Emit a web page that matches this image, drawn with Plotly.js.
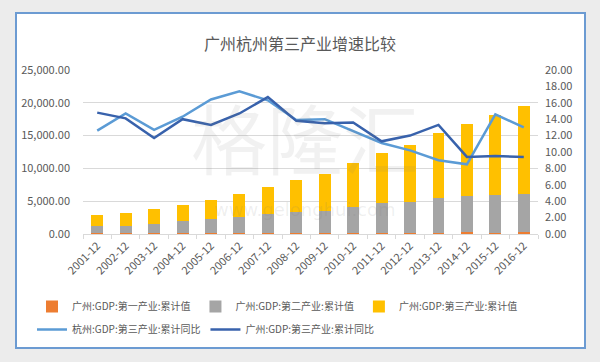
<!DOCTYPE html>
<html><head><meta charset="utf-8">
<script src="https://cdn.plot.ly/plotly-3.0.1.min.js"></script>
<style>html,body{margin:0;padding:0;background:#ececec;}#chart{width:600px;height:362px;}</style>
</head><body><div id="chart"></div>
<script>
const categories = ["2001-12","2002-12","2003-12","2004-12","2005-12","2006-12","2007-12","2008-12","2009-12","2010-12","2011-12","2012-12","2013-12","2014-12","2015-12","2016-12"];
const gzPrimary = [103.6,107.1,112.6,118.9,129.4,137.7,155.0,168.4,172.7,189.0,204.5,213.8,228.9,237.9,228.1,240.0];
const gzSecondary = [1102.5,1166.3,1480.4,1794.3,2095.8,2444.6,2827.5,3204.9,3405.1,3984.4,4576.9,4720.7,5227.4,5606.4,5726.1,5925.9];
const gzTertiary = [1635.6,1930.6,2165.6,2537.4,2929.0,3499.6,4157.8,4914.1,5560.4,6574.9,7642.0,8616.7,9963.8,10862.6,12146.2,13381.5];
const hzTertiaryYoY = [12.6,14.7,12.7,14.3,16.4,17.4,16.3,13.9,14.0,12.5,11.1,10.2,9.0,8.5,14.6,13.0];
const gzTertiaryYoY = [14.8,14.1,11.7,14.0,13.3,14.7,16.7,13.8,13.5,13.6,11.3,12.0,13.3,9.4,9.5,9.4];
const seriesNames = ["广州:GDP:第一产业:累计值","广州:GDP:第二产业:累计值","广州:GDP:第三产业:累计值","杭州:GDP:第三产业:累计同比","广州:GDP:第三产业:累计同比"];

const txt = '#595959';
const fnt = {family:'"Noto Sans CJK SC","Noto Sans",sans-serif', size:11, color:txt};
const lfnt = {family:'"Noto Sans CJK SC","Noto Sans",sans-serif', size:10, color:txt};
const traces = [
  {type:'bar', x:categories, y:gzPrimary, name:seriesNames[0], marker:{color:'#ED7D31'}, legend:'legend'},
  {type:'bar', x:categories, y:gzSecondary, name:seriesNames[1], marker:{color:'#A5A5A5'}, legend:'legend'},
  {type:'bar', x:categories, y:gzTertiary, name:seriesNames[2], marker:{color:'#FFC000'}, legend:'legend'},
  {type:'scatter', mode:'lines', x:categories, y:hzTertiaryYoY, name:seriesNames[3], yaxis:'y2', line:{color:'#5B9BD5', width:2.5}, legend:'legend2'},
  {type:'scatter', mode:'lines', x:categories, y:gzTertiaryYoY, name:seriesNames[4], yaxis:'y2', line:{color:'#3862AC', width:2.5}, legend:'legend2'}
];
const X0=83, W=455, Y0=70, H=164;
const px = v => (v - X0)/W;
const py = v => (Y0 + H - v)/H;
const layout = {
  width:600, height:362,
  margin:{l:X0, r:600-X0-W, t:Y0, b:362-Y0-H, pad:0},
  paper_bgcolor:'#ececec', plot_bgcolor:'rgba(0,0,0,0)',
  barmode:'stack', bargap:0.58,
  font:fnt,
  title:{text:'广州杭州第三产业增速比较', font:{family:'"Noto Sans CJK SC",sans-serif', size:16, color:txt}, x:0.5, xanchor:'center', y:1-44/362, yanchor:'middle'},
  xaxis:{type:'category', tickangle:-45, tickfont:fnt, showgrid:false, showline:true, linecolor:'#D9D9D9', linewidth:1, ticks:'outside', tickcolor:'#D9D9D9', ticklen:4, tickson:'boundaries', zeroline:false, fixedrange:true},
  yaxis:{range:[0,25000], dtick:5000, tickformat:',.2f', tickfont:fnt, gridcolor:'#D9D9D9', gridwidth:1, zeroline:false, showline:false, ticklabelstandoff:12},
  yaxis2:{range:[0,20], dtick:2, tickformat:'.2f', overlaying:'y', side:'right', showgrid:false, zeroline:false, tickfont:fnt, ticklabelstandoff:6},
  legend:{orientation:'h', x:px(32), xanchor:'left', y:py(292), yanchor:'top', font:lfnt, bgcolor:'rgba(0,0,0,0)', itemwidth:30, traceorder:'normal', itemgap:0},
  legend2:{orientation:'h', x:px(32), xanchor:'left', y:py(315), yanchor:'top', font:lfnt, bgcolor:'rgba(0,0,0,0)', itemwidth:30, traceorder:'normal'},
  showlegend:true,
  shapes:[
    {type:'rect', xref:'paper', yref:'paper', x0:px(16), x1:px(585), y0:py(348), y1:py(13), fillcolor:'#ffffff', line:{color:'#6C9BD2', width:2}, layer:'below'}
  ],
  annotations:[
    {text:'格隆汇', xref:'paper', yref:'paper', x:px(305), y:py(136), showarrow:false, font:{family:'"Noto Sans CJK SC",sans-serif', size:76, color:'rgba(120,120,120,0.10)'}},
    {text:'www.gelonghui.com', xref:'paper', yref:'paper', x:px(305), y:py(222), showarrow:false, font:{family:'"DejaVu Sans",sans-serif', size:18, color:'rgba(120,120,120,0.12)'}}
  ]
};
Plotly.newPlot('chart', traces, layout, {displayModeBar:false, staticPlot:true});
</script></body></html>
